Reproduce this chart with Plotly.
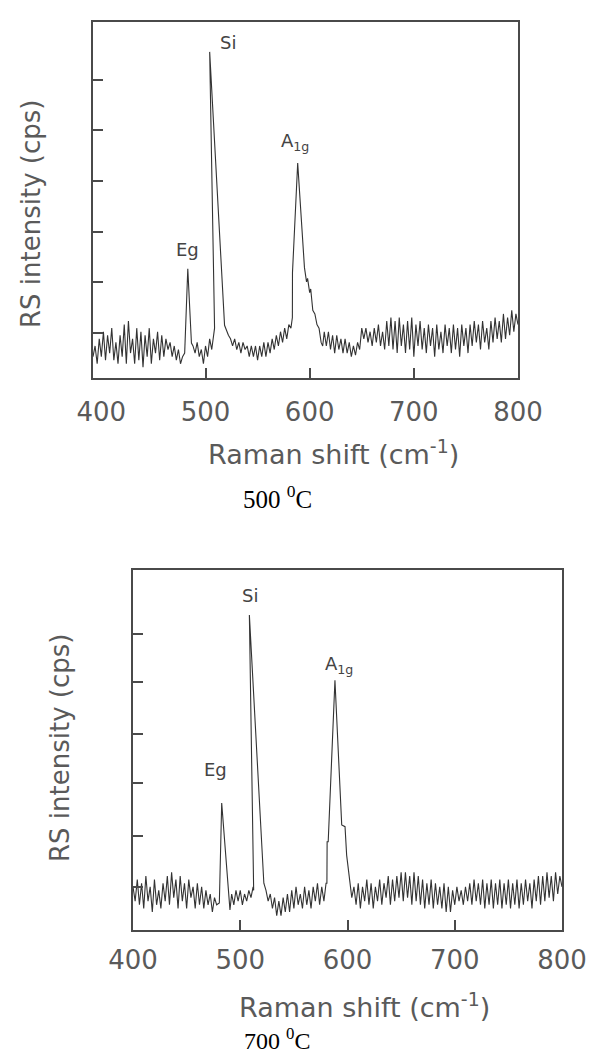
import plotly.graph_objects as go

# ---------------- data: 500 C spectrum (arbitrary intensity units) ----------------
x_500 = [392, 394, 396, 398, 400, 402, 404, 406, 408, 410, 412, 414, 416, 418, 420, 422,
         424, 426, 428, 430, 432, 434, 436, 438, 440, 442, 444, 446, 448, 450, 452, 454,
         456, 458, 460, 462, 464, 466, 468, 470, 472, 474, 476, 478,
         480, 483, 486.5,
         488, 490, 492, 494, 496, 498, 500, 502, 504, 506, 508,
         508.7, 504, 518.3,
         522, 524, 526, 528, 530, 532, 534, 536, 538, 540, 542, 544, 546, 548, 550, 552,
         554, 556, 558, 560, 562, 564, 566, 568, 570, 572, 574, 576, 578, 580, 582,
         583.4, 583.5, 588.5, 595,
         596, 597, 598, 600, 601, 603, 605, 607, 609, 611, 612.5, 614, 616, 618, 620, 622,
         624, 626, 628, 630, 632, 634, 636, 638, 640, 642, 644, 646, 648, 650,
         652, 654, 656, 658, 660, 662, 664, 666, 668, 670,
         672, 674, 676, 678, 680, 682, 684, 686, 688, 690,
         692, 694, 696, 698, 700, 702, 704, 706, 708, 710,
         712, 714, 716, 718, 720, 722, 724, 726, 728, 730,
         732, 734, 736, 738, 740, 742, 744, 746, 748, 750,
         752, 754, 756, 758, 760, 762, 764, 766, 768, 770,
         772, 774, 776, 778, 780, 782, 784, 786, 788, 790,
         792, 794, 796, 798, 800]
y_500 = [6, 9, 4, 11, 6, 13, 5, 12, 7, 14, 5, 10, 4, 12, 6, 15,
         4, 16, 7, 11, 4, 14, 5, 13, 3, 12, 6, 14, 4, 11, 7, 13,
         5, 12, 6, 11, 8, 10, 6, 9, 5, 8, 4, 6,
         7, 30.7, 9.8,
         9, 7, 10, 6, 8, 4, 9, 6, 11, 8, 13,
         14, 91.6, 14.8,
         12, 11, 9, 11, 8, 10, 7, 10, 8, 9, 6, 9, 6, 9, 5, 9,
         6, 10, 6, 10, 7, 11, 8, 12, 9, 13, 10, 14, 11, 15, 14,
         17, 29.6, 60.4, 31,
         29, 27, 28, 24, 25, 19, 18, 15, 14, 10, 9, 13, 9, 13, 8, 12,
         7, 12, 8, 11, 7, 11, 7, 10, 6, 9, 6.4, 10, 8, 14,
         11, 14, 10, 13, 9, 14, 10, 15, 9, 13,
         8, 16, 9, 17, 8, 16, 7, 17, 9, 15,
         7, 16, 8, 17, 6, 15, 9, 16, 8, 14,
         7, 15, 9, 14, 6, 15, 8, 13, 7, 15,
         9, 14, 7, 15, 8, 14, 6, 15, 9, 14,
         7, 15, 9, 16, 10, 15, 8, 16, 10, 14,
         8, 16, 10, 17, 11, 16, 10, 18, 11, 17,
         12, 19, 13, 18, 15]

# ---------------- data: 700 C spectrum ----------------
x_700 = [400, 402, 404, 406, 408, 410, 412, 414, 416, 418,
         420, 422, 424, 426, 428, 430, 432, 434, 436, 438,
         440, 442, 444, 446, 448, 450, 452, 454, 456, 458,
         460, 462, 464, 466, 468, 470, 472, 474, 476, 478,
         480.5, 482.7, 490.4,
         492, 494, 496, 498, 500, 502, 504, 506, 508, 510, 512,
         512.5, 508.5, 522,
         524, 526, 528, 530, 532, 534, 536, 538, 540, 542,
         544, 546, 548, 550, 552, 554, 556, 558, 560, 562,
         564, 566, 568, 570, 572, 574, 576, 578, 580,
         580.8, 581, 582, 588.3, 594.6, 597.7, 599.2, 602.3,
         604, 606, 608, 610, 612, 614, 616, 618, 620, 622,
         624, 626, 628, 630, 632, 634, 636, 638, 640, 642,
         644, 646, 648, 650, 652, 654, 656, 658, 660, 662,
         664, 666, 668, 670, 672, 674, 676, 678, 680, 682,
         684, 686, 688, 690, 692, 694, 696, 698, 700, 702,
         704, 706, 708, 710, 712, 714, 716, 718, 720, 722,
         724, 726, 728, 730, 732, 734, 736, 738, 740, 742,
         744, 746, 748, 750, 752, 754, 756, 758, 760, 762,
         764, 766, 768, 770, 772, 774, 776, 778, 780, 782,
         784, 786, 788, 790, 792, 794, 796, 798, 800]
y_700 = [12, 8, 14, 7, 13, 6, 15, 8, 12, 5,
         14, 7, 11, 6, 13, 8, 15, 7, 16, 9,
         14, 6, 15, 8, 13, 6, 14, 9, 12, 6,
         13, 7, 12, 6, 11, 7, 10, 5, 9, 7,
         7.5, 35.3, 5.6,
         10, 7, 11, 8, 11, 7, 10, 8, 11, 9, 12,
         11, 87.5, 13,
         11, 8, 10, 6, 9, 4, 8, 4, 9, 5,
         10, 5, 11, 6, 12, 7, 10, 6, 12, 7,
         11, 6, 12, 8, 13, 7, 12, 8, 13,
         13, 24.5, 24.5, 69.4, 29.2, 28.7, 20.8, 13.9,
         9, 12, 7, 13, 6, 12, 8, 14, 7, 13,
         6, 12, 8, 14, 7, 13, 9, 15, 7, 14,
         8, 15, 9, 16, 8, 16, 9, 15, 7, 16,
         8, 15, 7, 14, 6, 13, 7, 14, 6, 13,
         7, 12, 6, 13, 5, 12, 5, 11, 7, 12,
         8, 11, 7, 12, 8, 13, 7, 14, 8, 13,
         7, 14, 6, 13, 7, 14, 6, 13, 7, 14,
         6, 13, 7, 14, 6, 13, 7, 14, 6, 13,
         7, 14, 8, 13, 6, 14, 8, 15, 7, 15,
         8, 16, 9, 15, 8, 16, 10, 15, 12]

# axis ticks
x_tick_vals = [400, 500, 600, 700, 800]
x_tick_text = ["400", "500", "600", "700", "800"]
x_tick_marks = [500, 600, 700]
y_ticks_500 = [12.6, 26.9, 41.1, 55.3, 69.6, 83.8]
y_ticks_700 = [11.9, 26.1, 40.8, 54.4, 68.9, 82.2]

W, H = 596, 1055
LINE = "#333333"
FRAME = "#4a4a4a"
TXT = "#5a5a5a"
SANS = "DejaVu Sans, Verdana, sans-serif"
SERIF = "Liberation Serif, Times New Roman, serif"


def px(x, y):
    return x / W, 1 - y / H


fig = go.Figure()
fig.add_trace(go.Scatter(x=x_500, y=y_500, mode="lines", xaxis="x", yaxis="y",
                         line=dict(color=LINE, width=1.1), hoverinfo="skip", showlegend=False))
fig.add_trace(go.Scatter(x=x_700, y=y_700, mode="lines", xaxis="x2", yaxis="y2",
                         line=dict(color=LINE, width=1.1), hoverinfo="skip", showlegend=False))


def xaxis(domain, rng, standoff, anchor):
    return dict(domain=domain, range=rng, anchor=anchor, automargin=False,
                showgrid=False, zeroline=False,
                showline=True, mirror=True, linecolor=FRAME, linewidth=2,
                tickmode="array", tickvals=x_tick_vals, ticktext=x_tick_text,
                ticks="", ticklabelstandoff=standoff,
                tickfont=dict(family=SANS, size=26, color=TXT),
                minor=dict(tickmode="array", tickvals=x_tick_marks, ticks="inside",
                           ticklen=10, tickwidth=2, tickcolor=FRAME))


def yaxis(domain, tv, anchor):
    return dict(domain=domain, range=[0, 100], anchor=anchor, automargin=False,
                showgrid=False, zeroline=False,
                showline=True, mirror=True, linecolor=FRAME, linewidth=2,
                tickmode="array", tickvals=tv, showticklabels=False,
                ticks="inside", ticklen=10, tickwidth=2, tickcolor=FRAME)


top_x = [93 / W, 518 / W]
top_y = [1 - 378 / H, 1 - 22 / H]
bot_x = [133 / W, 562 / W]
bot_y = [1 - 930 / H, 1 - 570 / H]

fig.update_layout(width=W, height=H, margin=dict(l=0, r=0, t=0, b=0, autoexpand=False),
                  template="none",
                  paper_bgcolor="white", plot_bgcolor="white",
                  xaxis=xaxis(top_x, [392, 800], 10, "y"),
                  yaxis=yaxis(top_y, y_ticks_500, "x"),
                  xaxis2=xaxis(bot_x, [400, 800], 6, "y2"),
                  yaxis2=yaxis(bot_y, y_ticks_700, "x2"),
                  showlegend=False)

ann = []


def text_at(x, y, s, size, color=TXT, family=SANS, angle=0):
    ax, ay = px(x, y)
    ann.append(dict(x=ax, y=ay, xref="paper", yref="paper", text=s, showarrow=False,
                    xanchor="center", yanchor="middle", textangle=angle,
                    font=dict(family=family, size=size, color=color)))


def peak_label(xd, yd, s, xr, yr):
    ann.append(dict(x=xd, y=yd, xref=xr, yref=yr, text=s, showarrow=False,
                    xanchor="center", yanchor="middle",
                    font=dict(family=SANS, size=18, color="#444")))


# top panel texts
text_at(31, 214, "RS intensity (cps)", 26, angle=-90)
text_at(333, 452, "Raman shift (cm<sup>-1</sup>)", 27)
text_at(277, 497, "500 <sup>0</sup>C", 25, color="black", family=SERIF)
peak_label(522, 94.1, "Si", "x", "y")
peak_label(482.4, 36.2, "Eg", "x", "y")
peak_label(586.3, 66.2, "A<sub>1g</sub>", "x", "y")

# bottom panel texts
text_at(60, 748, "RS intensity (cps)", 26, angle=-90)
text_at(364, 1005, "Raman shift (cm<sup>-1</sup>)", 27)
text_at(277, 1039, "700 <sup>0</sup>C", 24, color="black", family=SERIF)
peak_label(509, 92.9, "Si", "x2", "y2")
peak_label(476.5, 44.6, "Eg", "x2", "y2")
peak_label(592, 73.6, "A<sub>1g</sub>", "x2", "y2")

fig.update_layout(annotations=ann)
fig.write_html(
    "out.html",
    config={"displayModeBar": False},
    post_script="document.body.style.margin='0';document.body.style.padding='0';"
                "document.body.style.overflow='hidden';",
)
